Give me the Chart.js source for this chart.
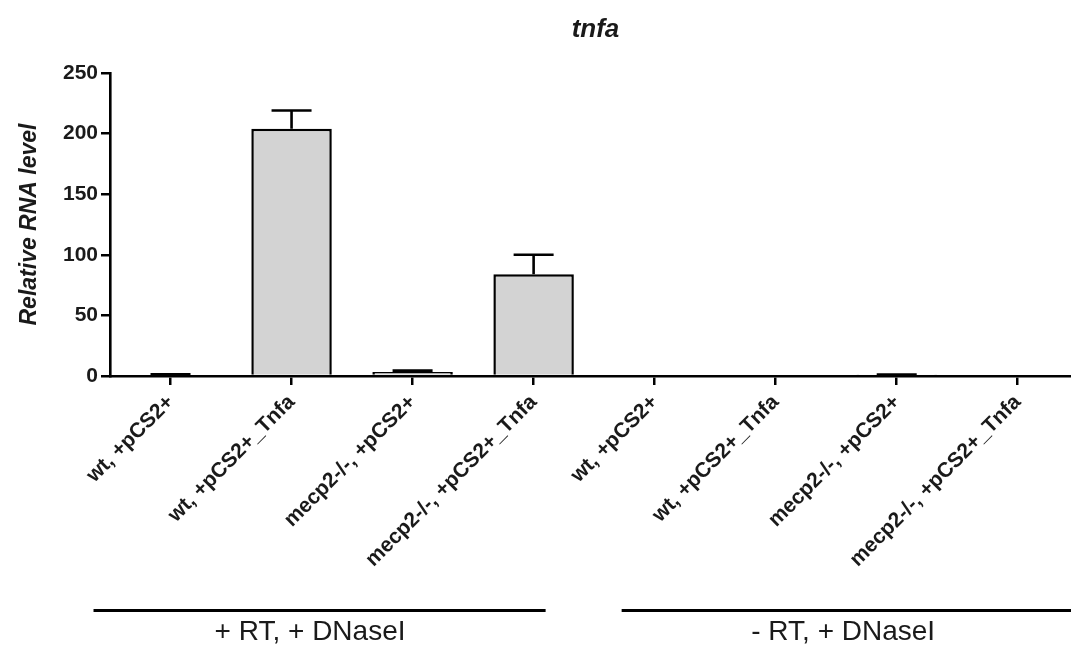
<!DOCTYPE html>
<html>
<head>
<meta charset="utf-8">
<script src="https://cdn.jsdelivr.net/npm/chart.js@4.4.0/dist/chart.umd.min.js"></script>
<style>
  html, body { margin: 0; padding: 0; background: #fff; overflow: hidden; }
  #wrap { position: relative; width: 1071px; height: 646px; }
</style>
</head>
<body>
<div id="wrap"><canvas id="tnfaChart"></canvas></div>
<script>
'use strict';

// ── Data ──────────────────────────────────────────────────────
const categories = [
  'wt, +pCS2+', 'wt, +pCS2+_Tnfa', 'mecp2-/-, +pCS2+', 'mecp2-/-, +pCS2+_Tnfa',
  'wt, +pCS2+', 'wt, +pCS2+_Tnfa', 'mecp2-/-, +pCS2+', 'mecp2-/-, +pCS2+_Tnfa',
];
const meanValues  = [1.0, 204, 3.3, 84, 0, 0, 0.8, 0];
const errorValues = [0.3, 15, 1.1, 16, 0, 0, 0.4, 0];
const yTicks      = [0, 50, 100, 150, 200, 250];
const groupLabels = ['+ RT, + DNaseI', '- RT, + DNaseI'];
const groupFirst  = [0, 4];
const groupLast   = [3, 7];

// ── Shared defaults ───────────────────────────────────────────
const FONT = "'Liberation Sans', Arial, Helvetica, sans-serif";
Chart.defaults.font.family = FONT;
Chart.defaults.color       = '#1a1a1a';

// ── Error bars (upper whisker only) ───────────────────────────
const errorBarPlugin = {
  id: 'errorBars',
  afterDatasetsDraw(chart) {
    const { ctx, scales: { x, y } } = chart;
    ctx.save();
    ctx.strokeStyle = '#000';
    ctx.lineWidth   = 2.6;
    meanValues.forEach((v, i) => {
      const err = errorValues[i];
      if (!err) return;
      const px   = x.getPixelForValue(i);
      const yTop = y.getPixelForValue(v + err);
      const yBar = y.getPixelForValue(v);
      ctx.beginPath();
      ctx.moveTo(px, yBar);
      ctx.lineTo(px, yTop);
      ctx.moveTo(px - 20, yTop);
      ctx.lineTo(px + 20, yTop);
      ctx.stroke();
    });
    ctx.restore();
  },
};

// ── Title + group brackets under the axis ─────────────────────
// bracket extents, in pixels relative to the first / last tick of each group
const BRACKET_PAD = [[-77, 12], [-33, 60]];
const LABEL_SHIFT = [-42, 7];

const annotatePlugin = {
  id: 'annotate',
  afterDraw(chart) {
    const { ctx, chartArea, scales: { x } } = chart;
    ctx.save();
    ctx.fillStyle = '#1a1a1a';
    ctx.textAlign = 'center';
    ctx.textBaseline = 'alphabetic';
    ctx.font = `italic bold 26px ${FONT}`;
    ctx.fillText('tnfa', (chartArea.left + chartArea.right) / 2 + 5, 37);

    ctx.strokeStyle = '#000';
    ctx.lineWidth = 3;
    ctx.font = `28px ${FONT}`;
    groupLabels.forEach((label, g) => {
      const a  = x.getPixelForValue(groupFirst[g]);
      const b  = x.getPixelForValue(groupLast[g]);
      const x0 = a + BRACKET_PAD[g][0];
      const x1 = Math.min(b + BRACKET_PAD[g][1], chart.width);
      ctx.beginPath();
      ctx.moveTo(x0, 610.5);
      ctx.lineTo(x1, 610.5);
      ctx.stroke();
      ctx.fillText(label, (a + b) / 2 + LABEL_SHIFT[g], 640);
    });
    ctx.restore();
  },
};

// ── Chart ─────────────────────────────────────────────────────
new Chart(document.getElementById('tnfaChart'), {
  type: 'bar',
  data: {
    datasets: [{
      label: 'tnfa',
      data: meanValues.map((v, i) => ({ x: i, y: v })),
      backgroundColor: '#d3d3d3',
      borderColor: '#000',
      borderWidth: 2.5,
      borderSkipped: 'bottom',
      categoryPercentage: 1,
      barPercentage: 0.665,
    }],
  },
  options: {
    responsive: true,
    maintainAspectRatio: false,
    animation: false,
    layout: { padding: { top: 73, right: 0, bottom: 0, left: 0 } },
    plugins: {
      legend:  { display: false },
      tooltip: { enabled: false },
    },
    scales: {
      x: {
        type: 'linear',
        min: -0.5,
        max: 7.44,
        offset: false,
        afterBuildTicks(scale) {
          scale.ticks = categories.map((_, i) => ({ value: i }));
        },
        afterFit(scale) { scale.height = 270; },
        grid:   { offset: false, drawOnChartArea: false, color: '#000', lineWidth: 2.5, tickLength: 9 },
        border: { display: true, color: '#000', width: 2.6 },
        ticks: {
          autoSkip: false,
          minRotation: 45,
          maxRotation: 45,
          padding: 5,
          color: '#1a1a1a',
          font: { size: 21, weight: 'bold' },
          callback: (v) => categories[v] ?? '',
        },
      },
      y: {
        min: 0,
        max: 250,
        afterBuildTicks(scale) {
          scale.ticks = yTicks.map(v => ({ value: v }));
        },
        afterFit(scale) { scale.width = 110; },
        grid:   { drawOnChartArea: false, color: '#000', lineWidth: 2.5, tickLength: 9 },
        border: { display: true, color: '#000', width: 2.6 },
        ticks: {
          padding: 3,
          color: '#1a1a1a',
          font: { size: 21, weight: 'bold' },
        },
        title: {
          display: true,
          text: 'Relative RNA level',
          color: '#1a1a1a',
          padding: { top: 16, bottom: 0 },
          font: { size: 23, weight: 'bold', style: 'italic' },
        },
      },
    },
  },
  plugins: [errorBarPlugin, annotatePlugin],
});
</script>
</body>
</html>
